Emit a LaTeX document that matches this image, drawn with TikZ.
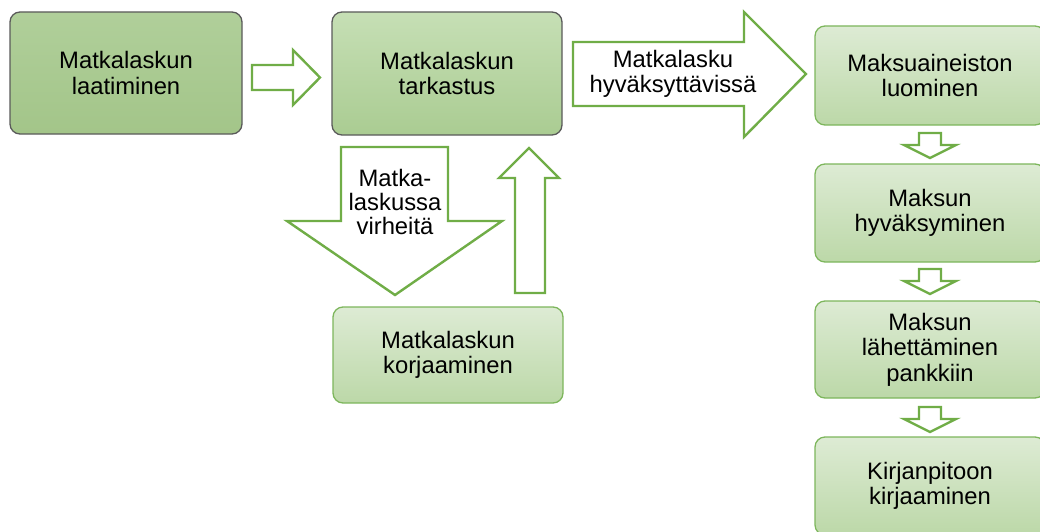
\documentclass[tikz,border=0pt]{standalone}
\usepackage{fontspec}
\setmainfont{Liberation Sans}
\definecolor{accent}{HTML}{70AD47}
\definecolor{greenedge}{HTML}{7DB65C}
\definecolor{darkedge}{HTML}{5A5A5A}
\definecolor{dTop}{HTML}{B0CF9A}
\definecolor{dBot}{HTML}{A3C589}
\definecolor{mTop}{HTML}{C6DFB5}
\definecolor{mBot}{HTML}{AACC92}
\definecolor{lTop}{HTML}{DDEBD4}
\definecolor{lBot}{HTML}{BCD8A8}
\begin{document}
\begin{tikzpicture}[x=1pt,y=-1pt,
  label font/.style={font=\fontsize{23.8}{25.5}\selectfont, align=center, text=black},
  box/.style={label font, rounded corners=10pt, line width=1.3pt,
    minimum width=230pt, inner sep=0pt, outer sep=0pt},
  darkbox/.style={box, draw=darkedge, top color=dTop, bottom color=dBot},
  midbox/.style={box, draw=darkedge, top color=mTop, bottom color=mBot},
  lightbox/.style={box, draw=greenedge, top color=lTop, bottom color=lBot},
  hollow/.style={draw=accent, fill=white, line width=2.4pt, line join=miter},
  smalldown/.pic={
    \draw[hollow] (-11,0) -- (11,0) -- (11,12) -- (26,12) -- (0,25)
      -- (-26,12) -- (-11,12) -- cycle;}
]
\useasboundingbox (0,0) rectangle (1040,532);
\clip (0,0) rectangle (1040,532);

% process boxes
\node[darkbox, minimum width=232pt, minimum height=122pt] (laadinta) at (126,73)
  {Matkalaskun\\laatiminen};
\node[midbox, minimum height=123pt] (tarkastus) at (447,73.5)
  {Matkalaskun\\tarkastus};
\node[lightbox, minimum height=96pt] (korjaus) at (448,355)
  {Matkalaskun\\korjaaminen};
\node[lightbox, minimum height=99pt] (aineisto) at (930,75.5)
  {Maksuaineiston\\luominen};
\node[lightbox, minimum height=98pt] (hyvaksynta) at (930,213)
  {Maksun\\hyväksyminen};
\node[lightbox, minimum height=97pt] (lahetys) at (930,349.5)
  {Maksun\\lähettäminen\\pankkiin};
\node[lightbox, minimum height=98pt] (kirjaus) at (930,486)
  {Kirjanpitoon\\kirjaaminen};

% block arrows between the steps
\draw[hollow] (252,65) -- (293,65) -- (293,50) -- (320,77.5) -- (293,105)
  -- (293,90) -- (252,90) -- cycle;
\draw[hollow] (573,42) -- (744,42) -- (744,12) -- (806,74) -- (744,137)
  -- (744,106) -- (573,106) -- cycle;
\node[label font] (hyvaksyttavissa) at (673,74) {Matkalasku\\hyväksyttävissä};

\draw[hollow] (341,147) -- (448,147) -- (448,221) -- (502,221) -- (395,295)
  -- (287,221) -- (341,221) -- cycle;
\node[label font, font=\fontsize{23.8}{24}\selectfont] (virheita) at (395,202)
  {Matka-\\laskussa\\virheitä};

\draw[hollow] (515,293) -- (545,293) -- (545,178) -- (559,178) -- (529,148)
  -- (499,178) -- (515,178) -- cycle;

\pic at (930,133) {smalldown};
\pic at (930,269) {smalldown};
\pic at (930,407) {smalldown};
\end{tikzpicture}
\end{document}
